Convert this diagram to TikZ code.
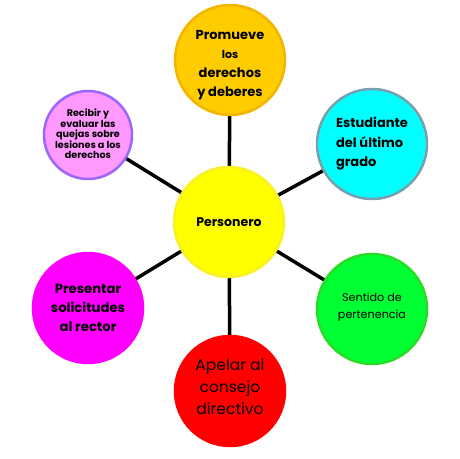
\documentclass[tikz,border=0pt]{standalone}
\usepackage{fontspec}
\setmainfont{Poppins}
\usepackage{tikz}
\usetikzlibrary{backgrounds}
\definecolor{gold}{RGB}{255,204,0}
\definecolor{goldline}{RGB}{245,180,0}
\definecolor{sunny}{RGB}{255,255,0}
\definecolor{sunnyline}{RGB}{250,240,40}
\definecolor{aqua}{RGB}{0,255,255}
\definecolor{aqualine}{RGB}{120,160,175}
\definecolor{lilac}{RGB}{255,153,255}
\definecolor{lilacline}{RGB}{153,102,255}
\definecolor{fuchsia}{RGB}{255,0,255}
\definecolor{lime}{RGB}{0,255,51}
\definecolor{limeline}{RGB}{40,220,40}
\definecolor{scarlet}{RGB}{255,0,0}

\begin{document}
\begin{tikzpicture}[x=1pt, y=-1pt,
  bubble/.style={circle, line width=2.5pt, inner sep=0pt, align=center, text=black, minimum size=110pt},
  spoke/.style={line width=3.5pt, black}]
  \useasboundingbox (0,0) rectangle (460,458);
  % Centre
  \node[bubble, fill=sunny, draw=sunnyline, font=\fontsize{12.5}{16}\selectfont\bfseries] (personero) at (229,222)
    {Personero};
  % Outer bubbles, clockwise from the top
  \node[bubble, fill=gold, draw=goldline] (promueve) at (230,60) {};
  \node[align=center, font=\fontsize{13}{19}\selectfont\bfseries] (promuevetext) at ([yshift=-5pt]promueve.center)
    {Promueve\\ {\fontsize{11}{12}\selectfont\bfseries los}\\ derechos\\ y deberes};
  \node[bubble, fill=aqua, draw=aqualine, align=left, font=\fontsize{13}{19.5}\selectfont\bfseries] (estudiante) at (372,144)
    {Estudiante\\ del último\\ grado};
  \node[bubble, fill=lime, draw=limeline, font=\fontsize{11.2}{17}\selectfont] (sentido) at (372,309)
    {Sentido de\\ pertenencia\\[-10pt]};
  \node[bubble, fill=scarlet, draw=scarlet, font=\fontsize{15.5}{22}\selectfont] (apelar) at (230,391)
    {Apelar al\\ consejo\\ directivo\\[-14pt]};
  \node[bubble, fill=fuchsia, draw=fuchsia, font=\fontsize{13.2}{19}\selectfont\bfseries] (presentar) at (88,308)
    {Presentar\\ solicitudes\\ al rector};
  \node[bubble, fill=lilac, draw=lilacline, minimum size=88pt, font=\fontsize{9.6}{10.5}\selectfont\bfseries] (recibir) at (88,135)
    {\mbox{}\\[-4.5pt] Recibir y\\ evaluar las\\ quejas sobre\\ lesiones a los\\ derechos};
  % spokes behind the bubbles
  \begin{scope}[on background layer]
    \foreach \n in {promueve,estudiante,sentido,apelar,presentar,recibir}
      \draw[spoke] (personero.center) -- (\n.center);
  \end{scope}
\end{tikzpicture}
\end{document}
